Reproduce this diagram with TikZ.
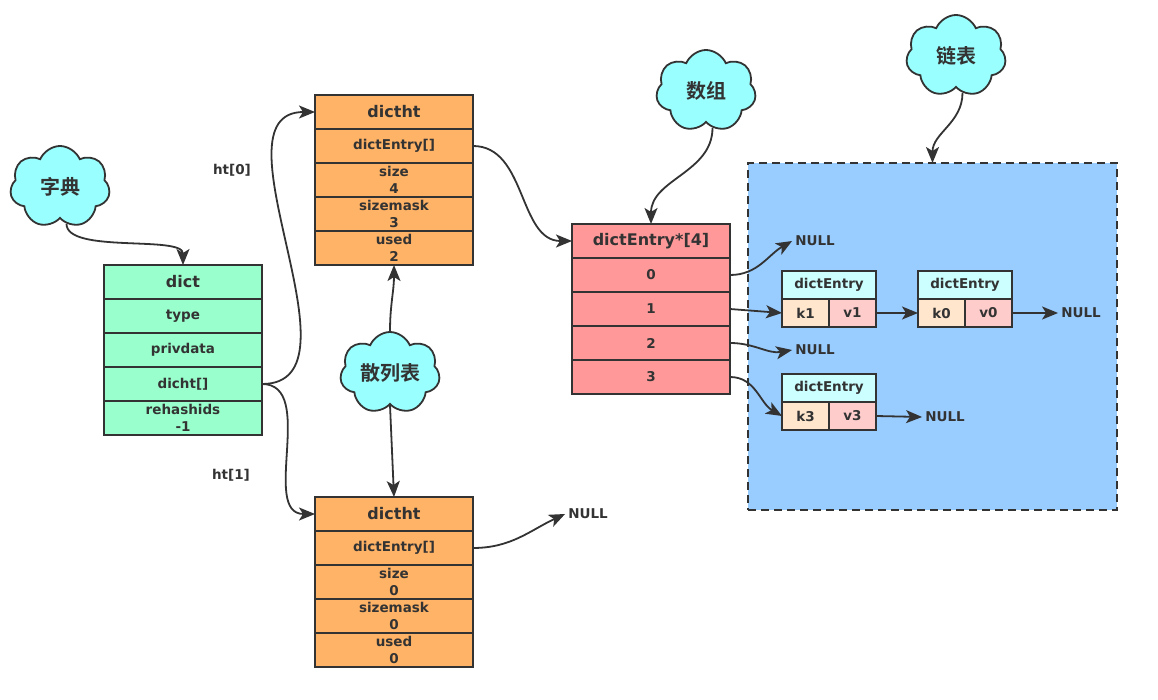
\documentclass[tikz,border=0pt]{standalone}
\usepackage{fontspec}
\setmainfont{DejaVu Sans}
\newfontfamily\cjk{Noto Sans CJK SC}[BoldFont={Noto Sans CJK SC Bold}]
\usetikzlibrary{positioning,shapes.symbols,arrows.meta}

\definecolor{ink}{HTML}{333333}
\definecolor{dictc}{HTML}{99FFCC}
\definecolor{htc}{HTML}{FFB366}
\definecolor{arrc}{HTML}{FF9999}
\definecolor{cloudc}{HTML}{99FFFF}
\definecolor{listc}{HTML}{99CCFF}
\definecolor{headc}{HTML}{CCFFFF}
\definecolor{keyc}{HTML}{FFE6CC}
\definecolor{valc}{HTML}{FFCCCC}

\tikzset{
  row/.style={draw=ink, line width=1.8pt, outer sep=0pt, inner sep=0pt,
    minimum width=158pt, minimum height=34pt, align=center, text=ink,
    font=\fontsize{13.5}{17}\selectfont\bfseries},
  title/.style={row, font=\fontsize{16}{19}\selectfont\bfseries},
  entry/.style={draw=ink, line width=1.8pt, fill=headc, outer sep=0pt, inner sep=0pt,
    minimum width=94pt, minimum height=28pt, text=ink,
    font=\fontsize{13.5}{16}\selectfont\bfseries},
  key/.style={entry, fill=keyc, minimum width=47pt},
  val/.style={key, fill=valc},
  bubble/.style={cloud, cloud puffs=7, cloud puff arc=135, cloud ignores aspect,
    draw=ink, line width=1.8pt, fill=cloudc, minimum width=100pt, minimum height=82pt,
    text=ink, font=\cjk\bfseries\fontsize{20}{24}\selectfont},
  word/.style={text=ink, inner sep=3pt, font=\fontsize{13.5}{16}\selectfont\bfseries},
  listbox/.style={draw=ink, line width=1.8pt, dash pattern=on 8pt off 5pt, fill=listc,
    minimum width=369pt, minimum height=347pt, inner sep=0pt, outer sep=0pt},
  link/.style={draw=ink, line width=1.8pt, -{Stealth[length=16pt,width=13pt,inset=4pt]}},
}

\begin{document}
\begin{tikzpicture}[x=1pt, y=-1pt]
    \useasboundingbox (0,0) rectangle (1158,700);

    % The area of the linked lists
    \node[listbox] (list) at (932.5,336.5) {};

    % The dict
    \node[title, fill=dictc]           (d0) at (183,282) {dict};
    \node[row, fill=dictc, below=0pt of d0] (d1) {type};
    \node[row, fill=dictc, below=0pt of d1] (d2) {privdata};
    \node[row, fill=dictc, below=0pt of d2] (d3) {dicht[]};
    \node[row, fill=dictc, below=0pt of d3] (d4) {rehashids\\-1};

    % The two hash tables
    \node[title, fill=htc]             (a0) at (394,112) {dictht};
    \node[row, fill=htc, below=0pt of a0] (a1) {dictEntry[]};
    \node[row, fill=htc, below=0pt of a1] (a2) {size\\4};
    \node[row, fill=htc, below=0pt of a2] (a3) {sizemask\\3};
    \node[row, fill=htc, below=0pt of a3] (a4) {used\\2};

    \node[title, fill=htc]             (b0) at (394,514) {dictht};
    \node[row, fill=htc, below=0pt of b0] (b1) {dictEntry[]};
    \node[row, fill=htc, below=0pt of b1] (b2) {size\\0};
    \node[row, fill=htc, below=0pt of b2] (b3) {sizemask\\0};
    \node[row, fill=htc, below=0pt of b3] (b4) {used\\0};

    % The bucket array
    \node[title, fill=arrc]            (r0) at (651,241) {dictEntry*[4]};
    \node[row, fill=arrc, below=0pt of r0] (r1) {0};
    \node[row, fill=arrc, below=0pt of r1] (r2) {1};
    \node[row, fill=arrc, below=0pt of r2] (r3) {2};
    \node[row, fill=arrc, below=0pt of r3] (r4) {3};

    % The entries
    \node[entry] (e1) at (829,285) {dictEntry};
    \node[key, anchor=north west] (k1) at (e1.south west) {k1};
    \node[val, right=0pt of k1]   (v1) {v1};
    \node[entry] (e2) at (965,285) {dictEntry};
    \node[key, anchor=north west] (k0) at (e2.south west) {k0};
    \node[val, right=0pt of k0]   (v0) {v0};
    \node[entry] (e3) at (829,388) {dictEntry};
    \node[key, anchor=north west] (k3) at (e3.south west) {k3};
    \node[val, right=0pt of k3]   (v3) {v3};

    % Labels and ends
    \node[word] (l0) at (232,170) {ht[0]};
    \node[word] (l1) at (231,475) {ht[1]};
    \node[word] (n0) at (815,241) {NULL};
    \node[word] (n1) at (1081,313) {NULL};
    \node[word] (n2) at (815,350) {NULL};
    \node[word] (n3) at (945,417) {NULL};
    \node[word] (n4) at (588,514) {NULL};

    % The clouds
    \node[bubble] (c1) at (60,187) {字典};
    \node[bubble] (c2) at (390,373) {散列表};
    \node[bubble] (c3) at (706,91) {数组};
    \node[bubble] (c4) at (956,56) {链表};

    % Connect everything with arrows
    \draw[link] (c1.-80) .. controls +(0,30) and +(0,-30) .. (d0.north);
    \draw[link] (d3.east) to[out=0,in=180] (a0.west);
    \draw[link] (d3.east) to[out=0,in=180] (b0.west);
    \draw[link] (c2.north) to[out=90,in=-90] (a4.south);
    \draw[link] (c2.south) -- (b0.north);
    \draw[link] (a1.east) to[out=0,in=180] (r0.west);
    \draw[link] (b1.east) to[out=0,in=205] (n4.west);
    \draw[link] (c3.-80) to[out=-90,in=90] (r0.north);
    \draw[link] (c4.-80) to[out=-90,in=90] (list.north);
    \draw[link] (r1.east) to[out=0,in=210] (n0.west);
    \draw[link] (r2.east) -- (k1.west);
    \draw[link] (v1.east) -- (k0.west);
    \draw[link] (v0.east) -- (n1.west);
    \draw[link] (r3.east) to[out=0,in=190] (n2.west);
    \draw[link] (r4.east) to[out=0,in=150] (k3.west);
    \draw[link] (v3.east) -- (n3.west);

\end{tikzpicture}
\end{document}
